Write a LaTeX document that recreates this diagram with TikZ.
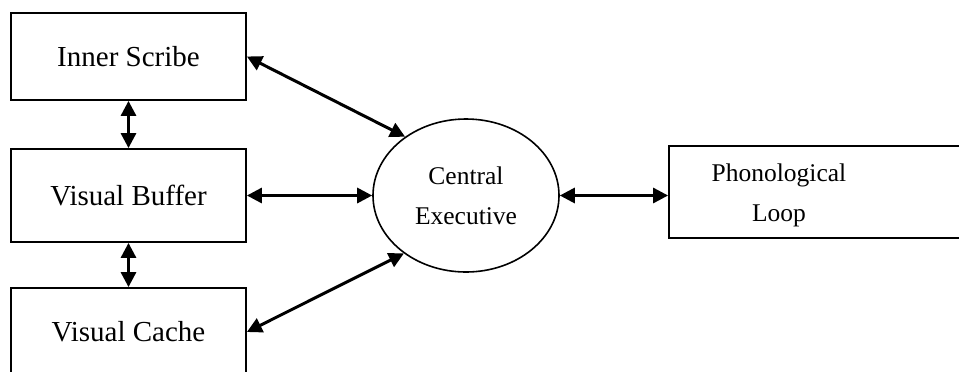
\documentclass[tikz,border=0pt]{standalone}
\usepackage{fontspec}
\setmainfont{Liberation Serif}
\usepackage{tikz}
\usetikzlibrary{arrows.meta}
\usetikzlibrary{shapes.geometric}
\tikzstyle{block} = [style=draw, line width=0.9pt,
	minimum width = 117.5pt,
	minimum height = 45pt,
	font=\fontsize{14.5}{17}\selectfont]
\tikzstyle{arrow} =[{Triangle[length=7.5pt,width=7.5pt]}-{Triangle[length=7.5pt,width=7.5pt]}, line width=1.5pt]

\begin{document}
\begin{tikzpicture}[x=0.5pt, y=-0.5pt]
			\useasboundingbox (0,0) rectangle (959,371);
			\clip (0,0) rectangle (959,371);
			\node (scribe) [block, minimum height=43.5pt] at (128.5,56.5) {Inner Scribe};
			\node (buffer) [block, minimum height=46.5pt] at (128.5,195.5) {Visual Buffer};
			\node (cache) [block, minimum height=44pt] at (128.5,332) {Visual Cache};
			
			\node (exec) [draw, ellipse, line width=0.8pt, inner sep=0pt,
				minimum width=93pt, minimum height=76.5pt, align=center,
				font=\fontsize{12.75}{20}\selectfont] at (466,195.5) {Central\\Executive};
			\node (loop) [block, minimum width=150.5pt, minimum height=46pt] at (819.5,192) {};
			\node (looptext) [align=center, font=\fontsize{12.75}{20}\selectfont] at (779,195) {Phonological\\Loop};
			
			\draw [arrow] (scribe.south) -- (buffer.north);
			\draw [arrow] (buffer.south) -- (cache.north);
			\draw [arrow] (scribe.east) -- (exec.136);
			\draw [arrow] (buffer.east) -- (exec.west);
			\draw [arrow] (cache.east) -- (exec.223);
			\draw [arrow] (exec.east) -- (exec.east -| loop.west);
		\end{tikzpicture}
\end{document}
